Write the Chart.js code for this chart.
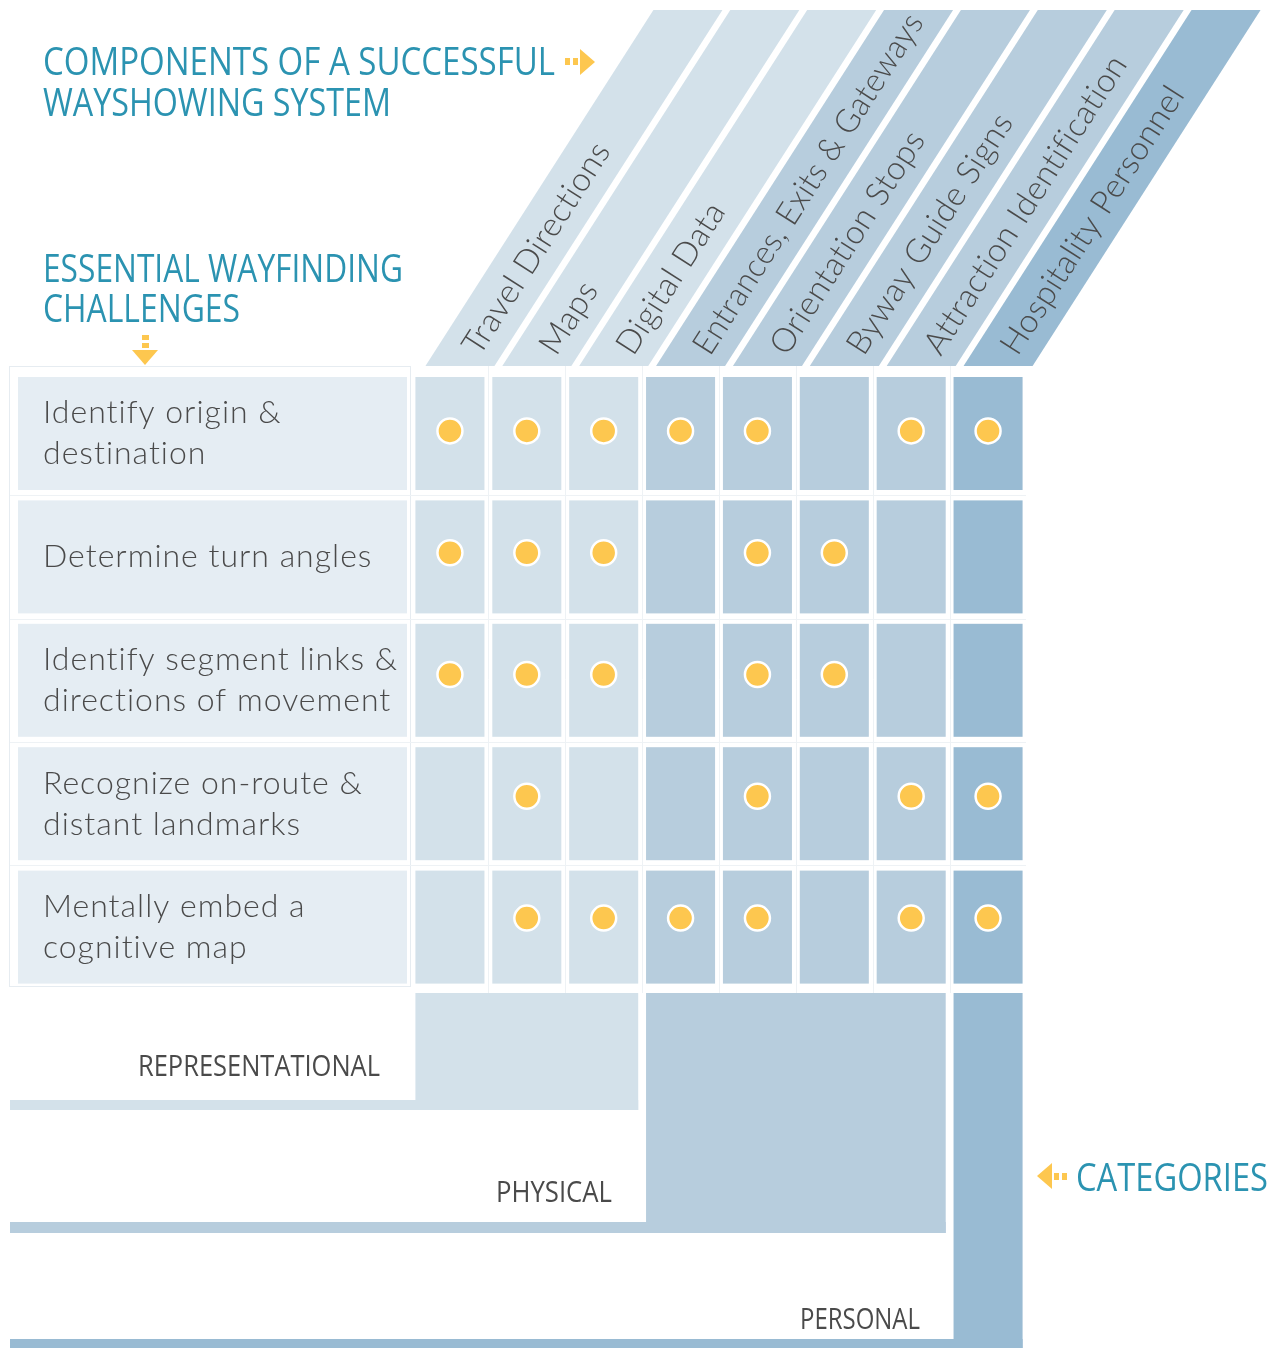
<!DOCTYPE html>
<html>
<head>
<meta charset="utf-8">
<title>Wayshowing components</title>
<script src="https://cdn.jsdelivr.net/npm/chart.js@4/dist/chart.umd.min.js"></script>
<style>
  html, body { margin: 0; padding: 0; background: #fff; }
  #wrap { width: 1268px; height: 1348px; }
</style>
</head>
<body>
<div id="wrap"><canvas id="chart" width="1268" height="1348"></canvas></div>
<script>
// components (columns) and challenges (rows)
const components = ['Travel Directions', 'Maps', 'Digital Data', 'Entrances, Exits & Gateways',
  'Orientation Stops', 'Byway Guide Signs', 'Attraction Identification', 'Hospitality Personnel'];
const challenges = [
  ['Identify origin &', 'destination'],
  ['Determine turn angles'],
  ['Identify segment links &', 'directions of movement'],
  ['Recognize on-route &', 'distant landmarks'],
  ['Mentally embed a', 'cognitive map']
];

// one row of marks per challenge, 1 = component addresses it
const originDestination = [1, 1, 1, 1, 1, 0, 1, 1];
const turnAngles        = [1, 1, 1, 0, 1, 1, 0, 0];
const segmentLinks      = [1, 1, 1, 0, 1, 1, 0, 0];
const landmarks         = [0, 1, 0, 0, 1, 0, 1, 1];
const cognitiveMap      = [0, 1, 1, 1, 1, 0, 1, 1];
const marks = [originDestination, turnAngles, segmentLinks, landmarks, cognitiveMap];

// categories and which column belongs where
const categories = ['REPRESENTATIONAL', 'PHYSICAL', 'PERSONAL'];
const categoryOfColumn = [0, 0, 0, 1, 1, 1, 1, 2];
const categoryColors = ['#d3e1ea', '#b7cddd', '#99bbd3'];

const TEAL = '#2b93b1';
const GREY = '#4a4a4a';
const GOLD = '#fdc74f';

const dots = [];
marks.forEach((row, r) => row.forEach((v, c) => { if (v) dots.push({ x: c, y: r }); }));

function arrow(ctx, x, y, dir) {
  // dir: 'right', 'down', 'left'
  ctx.save();
  ctx.translate(x, y);
  if (dir === 'down') ctx.rotate(Math.PI / 2);
  if (dir === 'left') ctx.rotate(Math.PI);
  ctx.fillStyle = GOLD;
  ctx.fillRect(-15, -4, 5, 7);
  ctx.fillRect(-7, -4, 5, 7);
  ctx.beginPath();
  ctx.moveTo(0, -13);
  ctx.lineTo(15, 0);
  ctx.lineTo(0, 13);
  ctx.closePath();
  ctx.fill();
  ctx.restore();
}

const matrixPlugin = {
  id: 'matrix',
  beforeDatasetsDraw(chart) {
    const { ctx, scales: { x } } = chart;
    const hw = 0.449;
    const left = i => x.getPixelForValue(i - hw);
    const right = i => x.getPixelForValue(i + hw);
    // row boxes run on a slightly wider pitch than the dots
    const rowTop0 = 377, rowPitch = 123.4, rowH = 113;
    const top = j => rowTop0 + j * rowPitch;
    const bottom = j => top(j) + rowH;
    ctx.save();

    // label frame
    ctx.strokeStyle = '#e6ecf1';
    ctx.lineWidth = 1;
    ctx.strokeRect(9.5, 366.5, 401, 620);

    // faint gap lines
    ctx.strokeStyle = '#eef2f5';
    for (let i = 0; i < components.length - 1; i++) {
      const gx = Math.round(x.getPixelForValue(i + 0.5)) + 0.5;
      ctx.beginPath(); ctx.moveTo(gx, 366); ctx.lineTo(gx, 993); ctx.stroke();
    }
    for (let j = 0; j < challenges.length - 1; j++) {
      const gy = Math.round((bottom(j) + top(j + 1)) / 2) + 0.5;
      ctx.beginPath(); ctx.moveTo(10, gy); ctx.lineTo(1026, gy); ctx.stroke();
    }

    // row label backgrounds and text
    challenges.forEach((lines, j) => {
      ctx.fillStyle = '#e5edf3';
      ctx.fillRect(18, top(j), 389, rowH);
      ctx.fillStyle = GREY;
      ctx.font = '300 32px Lato, "Open Sans", sans-serif';
      ctx.letterSpacing = '1px';
      ctx.textAlign = 'left';
      ctx.textBaseline = 'middle';
      const cy = top(j) + rowH / 2;
      lines.forEach((t, k) => {
        const ly = cy + (k - (lines.length - 1) / 2) * 41;
        ctx.fillText(t, 43, ly, 357);
      });
      ctx.letterSpacing = '0px';
    });

    // cells
    components.forEach((c, i) => {
      ctx.fillStyle = categoryColors[categoryOfColumn[i]];
      challenges.forEach((l, j) => {
        ctx.fillRect(left(i), top(j), right(i) - left(i), rowH);
      });
    });

    // slanted headers
    const hb = 366, ht = 10, dx = 228;
    const ang = Math.atan2(-(hb - ht), dx);
    components.forEach((c, i) => {
      const bl = left(i) + 10, br = right(i) + 10;
      ctx.fillStyle = categoryColors[categoryOfColumn[i]];
      ctx.beginPath();
      ctx.moveTo(bl, hb);
      ctx.lineTo(br, hb);
      ctx.lineTo(br + dx, ht);
      ctx.lineTo(bl + dx, ht);
      ctx.closePath();
      ctx.fill();
      const ux = Math.cos(ang), uy = Math.sin(ang);
      const cx = (bl + br) / 2 + 18 * ux, cy = hb + 18 * uy;
      ctx.save();
      ctx.translate(cx, cy);
      ctx.rotate(ang);
      ctx.fillStyle = GREY;
      ctx.font = '300 33px Lato, "Open Sans", sans-serif';
      ctx.letterSpacing = '0.5px';
      ctx.textAlign = 'left';
      ctx.textBaseline = 'middle';
      ctx.fillText(c, 0, 1, 398);
      ctx.restore();
    });

    // category blocks and bands
    const blockTop = 993;
    const bandBottoms = [1110, 1233, 1348];
    const bandH = [10, 11, 9];
    categories.forEach((name, k) => {
      const cols = categoryOfColumn.map((v, i) => v === k ? i : -1).filter(i => i >= 0);
      const l = left(cols[0]), r = right(cols[cols.length - 1]);
      ctx.fillStyle = categoryColors[k];
      ctx.fillRect(l, blockTop, r - l, bandBottoms[k] - blockTop);
      ctx.fillRect(10, bandBottoms[k] - bandH[k], r - 10, bandH[k]);
    });
    ctx.fillStyle = GREY;
    ctx.font = '400 30px "Open Sans", sans-serif';
    ctx.textAlign = 'right';
    ctx.textBaseline = 'middle';
    const catLabelRight = [380, 612, 920];
    const catLabelY = [1067, 1193, 1320];
    const catLabelW = [242, 116, 120];
    categories.forEach((name, k) => {
      ctx.fillText(name, catLabelRight[k], catLabelY[k], catLabelW[k]);
    });

    // titles
    ctx.fillStyle = TEAL;
    ctx.textAlign = 'left';
    ctx.textBaseline = 'alphabetic';
    ctx.font = '400 38px "Open Sans", sans-serif';
    ctx.fillText('COMPONENTS OF A SUCCESSFUL', 43, 75, 512);
    ctx.fillText('WAYSHOWING SYSTEM', 43, 116, 348);
    ctx.fillText('ESSENTIAL WAYFINDING', 43, 282, 360);
    ctx.fillText('CHALLENGES', 43, 322, 197);
    ctx.fillText('CATEGORIES', 1076, 1191, 192);
    arrow(ctx, 580, 62, 'right');
    arrow(ctx, 145, 350, 'down');
    arrow(ctx, 1052, 1176, 'left');

    ctx.restore();
  }
};

new Chart(document.getElementById('chart'), {
  type: 'scatter',
  data: {
    datasets: [{
      data: dots,
      pointRadius: 12.5,
      pointHoverRadius: 12.5,
      pointBackgroundColor: GOLD,
      pointBorderColor: '#ffffff',
      pointBorderWidth: 2.5
    }]
  },
  options: {
    responsive: false,
    animation: false,
    layout: { padding: { left: 411.5, right: 241.5, top: 370, bottom: 369 } },
    plugins: { legend: { display: false }, tooltip: { enabled: false } },
    scales: {
      x: { type: 'linear', min: -0.5, max: 7.5, display: false },
      y: { type: 'linear', min: -0.5, max: 4.5, reverse: true, display: false }
    }
  },
  plugins: [matrixPlugin]
});
</script>
</body>
</html>
